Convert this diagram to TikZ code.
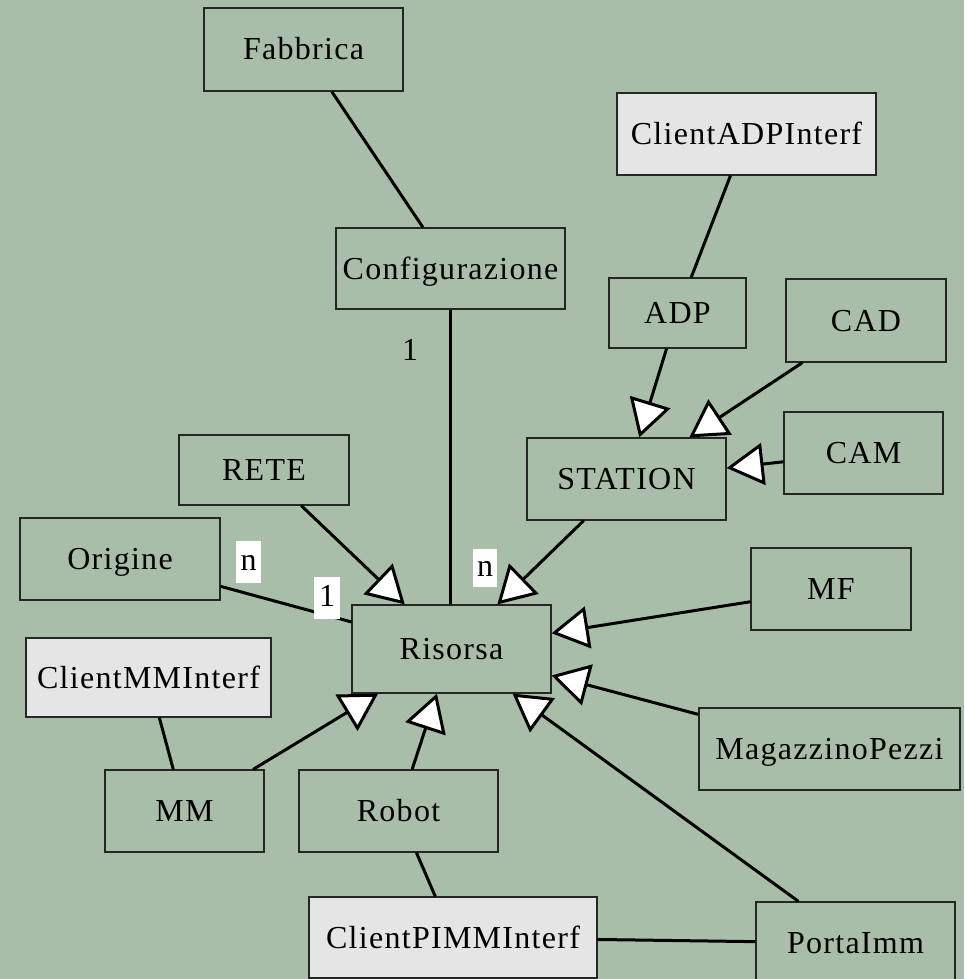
\documentclass[tikz,border=0pt]{standalone}
\usepackage{fontspec}
\setmainfont{Liberation Serif}[LetterSpace=4]
\usetikzlibrary{arrows.meta}
\definecolor{sage}{RGB}{169,190,169}
\definecolor{ifacegray}{RGB}{229,229,229}
\begin{document}
\begin{tikzpicture}[x=1pt,y=-1pt,
  cls/.style={draw=black!85, line width=1.2pt, fill=sage, inner sep=0pt,
    text height=21pt, text depth=0pt, font=\fontsize{32}{38}\selectfont},
  iface/.style={cls, fill=ifacegray},
  assoc/.style={line width=3pt},
  gen/.style={line width=3pt, -{Triangle[length=37pt,width=42pt,fill=white]}},
  mult/.style={fill=white, inner sep=0pt, minimum height=42pt,
    text height=16pt, text depth=0pt, font=\fontsize{32}{38}\selectfont},
]
% canvas
\useasboundingbox (0,0) rectangle (964,979);
\fill[sage] (0,0) rectangle (964,979);

% classes
\node[cls,  minimum width=199pt, minimum height=83pt] (fab)   at (303.5,49.5) {Fabbrica};
\node[cls,  minimum width=229pt, minimum height=81pt] (conf)  at (450.5,268.5) {Configurazione};
\node[iface,minimum width=259pt, minimum height=82pt] (cadp)  at (746.5,134) {ClientADPInterf};
\node[cls,  minimum width=137pt, minimum height=70pt] (adp)   at (677.5,313) {ADP};
\node[cls,  minimum width=160pt, minimum height=83pt] (cad)   at (866,320.5) {CAD};
\node[cls,  minimum width=159pt, minimum height=82pt] (cam)   at (863.5,453) {CAM};
\node[cls,  minimum width=199pt, minimum height=82pt] (stat)  at (626.5,479) {STATION};
\node[cls,  minimum width=170pt, minimum height=70pt] (rete)  at (264,470) {RETE};
\node[cls,  minimum width=200pt, minimum height=82pt] (orig)  at (120,559) {Origine};
\node[cls,  minimum width=199pt, minimum height=88pt] (ris)   at (451.5,649) {Risorsa};
\node[cls,  minimum width=160pt, minimum height=82pt] (mf)    at (831,589) {MF};
\node[cls,  minimum width=261pt, minimum height=82pt] (mag)   at (829.5,749) {MagazzinoPezzi};
\node[iface,minimum width=245pt, minimum height=79pt] (cmm)   at (148.5,677.5) {ClientMMInterf};
\node[cls,  minimum width=159pt, minimum height=82pt] (mm)    at (184.5,811) {MM};
\node[cls,  minimum width=199pt, minimum height=82pt] (rob)   at (398.5,811) {Robot};
\node[iface,minimum width=288pt, minimum height=81pt] (cpimm) at (453,937.5) {ClientPIMMInterf};
\node[cls,  minimum width=199pt, minimum height=82pt] (porta) at (855.5,943) {PortaImm};

% associations
\draw[assoc] (fab) -- (conf);
\draw[assoc] (conf.south) -- (conf.south |- ris.north);
\draw[assoc] (cadp) -- (adp);
\draw[assoc] (orig) -- (ris);
\draw[assoc] (cmm) -- (mm);
\draw[assoc] (rob) -- (cpimm);
\draw[assoc] (cpimm) -- (porta);

% generalisations
\draw[gen] (adp) -- (stat);
\draw[gen] (cad) -- (stat);
\draw[gen] (cam) -- (stat);
\draw[gen] (rete) -- (ris);
\draw[gen] (stat) -- (ris);
\draw[gen] (mf) -- (ris);
\draw[gen] (mag) -- (ris);
\draw[gen] (mm) -- (ris);
\draw[gen] (rob) -- (ris);
\draw[gen] (porta) -- (ris);

% multiplicities
\node[mult, minimum width=25pt] (mOrig) at (248.5,562) {n};
\node[mult, minimum width=26pt] (mRisO) at (327,598) {1};
\node[mult, minimum width=24pt, minimum height=38pt] (mRisS) at (485,568) {n};
\node[inner sep=0pt, text height=16pt, text depth=0pt, font=\fontsize{32}{38}\selectfont] (mConf) at (410,352) {1};
\end{tikzpicture}
\end{document}
